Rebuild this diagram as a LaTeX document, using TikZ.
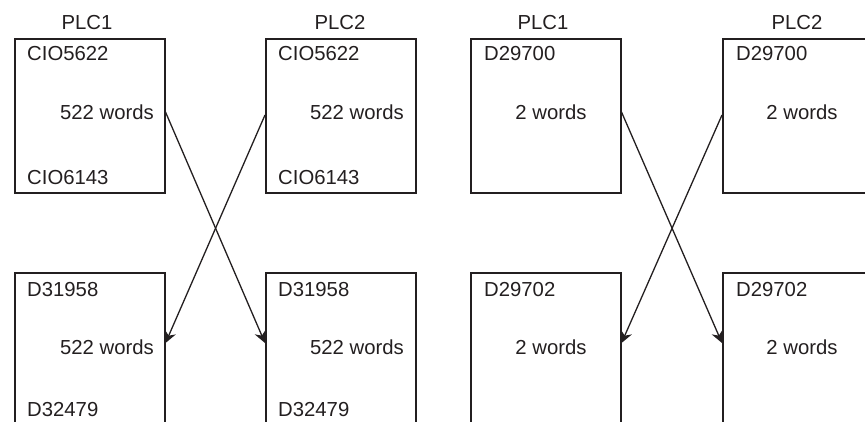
\documentclass[tikz,border=0pt]{standalone}
\usepackage{fontspec}
\setmainfont{Liberation Sans}
\usetikzlibrary{arrows.meta,calc}
\definecolor{ink}{RGB}{35,31,32}
\begin{document}
\begin{tikzpicture}[x=1pt,y=-1pt, color=ink,
  box/.style={draw=ink, line width=1.5pt, minimum width=150pt, inner sep=0pt, anchor=north west},
  topbox/.style={box, minimum height=154pt},
  botbox/.style={box, minimum height=175pt},
  lbl/.style={inner sep=0pt, text=ink, font=\fontsize{20.3}{23}\selectfont},
  lft/.style={lbl, anchor=west},
  rgt/.style={lbl, anchor=east},
  flow/.style={draw=ink, line width=1.3pt, -{Stealth[length=12pt,width=12pt,inset=4pt]}}]
\useasboundingbox (0,0) rectangle (865,421);
\clip (0,0) rectangle (865,421);
% left group
\node[topbox] (t1) at (14,38) {};
\node[topbox] (t2) at (265,38) {};
\node[botbox] (b1) at (14,272) {};
\node[botbox] (b2) at (265,272) {};
\node[lbl] (p1) at (87,23) {PLC1};
\node[lbl] (p2) at (340,23) {PLC2};
\node[lft] (t1a) at (27,54) {CIO5622};
\node[rgt] (t1w) at (154,112) {522 words};
\node[lft] (t1b) at (27,178) {CIO6143};
\node[lft] (t2a) at (278,54) {CIO5622};
\node[rgt] (t2w) at (404,112) {522 words};
\node[lft] (t2b) at (278,178) {CIO6143};
\node[lft] (b1a) at (27,290) {D31958};
\node[rgt] (b1w) at (154,347) {522 words};
\node[lft] (b1b) at (27,410) {D32479};
\node[lft] (b2a) at (278,290) {D31958};
\node[rgt] (b2w) at (404,347) {522 words};
\node[lft] (b2b) at (278,410) {D32479};
% right group
\node[topbox] (u1) at (470,38) {};
\node[topbox] (u2) at (722,38) {};
\node[botbox] (c1) at (470,272) {};
\node[botbox] (c2) at (722,272) {};
\node[lbl] (q1) at (543,23) {PLC1};
\node[lbl] (q2) at (797,23) {PLC2};
\node[lft] (u1a) at (484,54) {D29700};
\node[lbl] (u1w) at (551,112) {2 words};
\node[lft] (u2a) at (736,54) {D29700};
\node[lbl] (u2w) at (802,112) {2 words};
\node[lft] (c1a) at (484,290) {D29702};
\node[lbl] (c1w) at (551,347) {2 words};
\node[lft] (c2a) at (736,290) {D29702};
\node[lbl] (c2w) at (802,347) {2 words};
% connectors
\coordinate (s1) at ($(t1.east |- t1w)$);
\coordinate (s2) at ($(t2.west |- t2w)+(0,3)$);
\coordinate (e1) at ($(b1.east |- b1w)+(0,-4)$);
\coordinate (e2) at ($(b2.west |- b2w)+(0,-4)$);
\draw[flow] (s1) -- (e2);
\draw[flow] (s2) -- (e1);
\coordinate (s3) at ($(u1.east |- u1w)$);
\coordinate (s4) at ($(u2.west |- u2w)+(0,3)$);
\coordinate (e3) at ($(c1.east |- c1w)+(0,-4)$);
\coordinate (e4) at ($(c2.west |- c2w)+(0,-4)$);
\draw[flow] (s3) -- (e4);
\draw[flow] (s4) -- (e3);
\end{tikzpicture}
\end{document}
